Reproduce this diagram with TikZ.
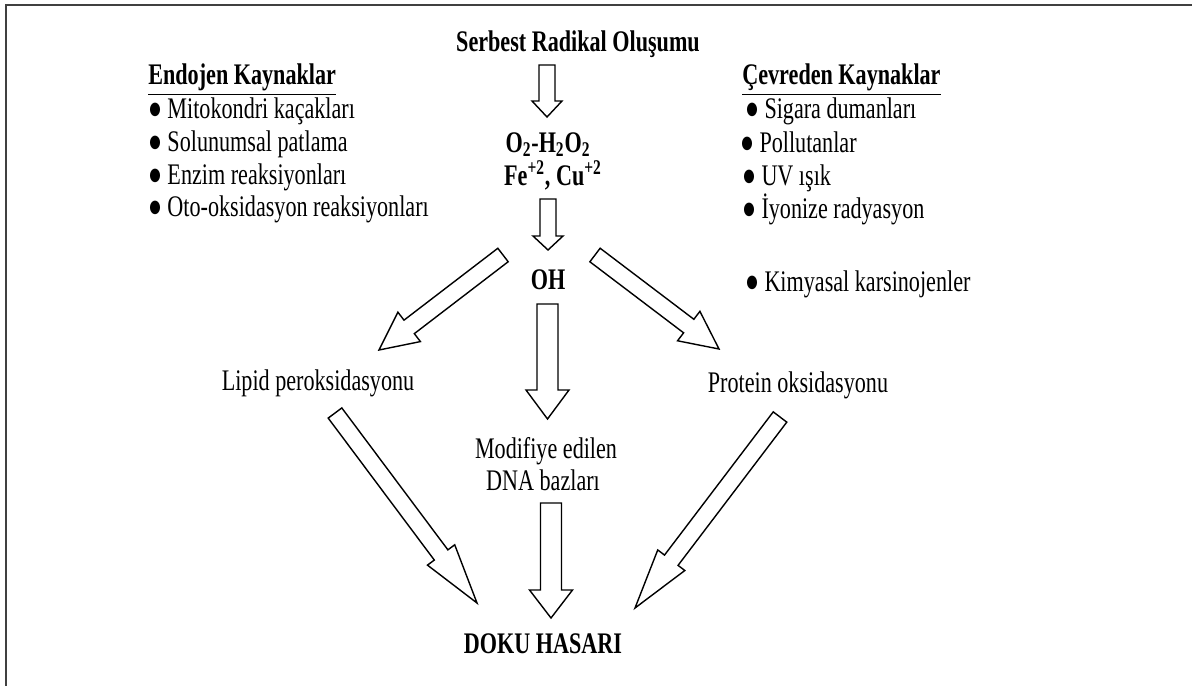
\documentclass[tikz,border=0pt]{standalone}
\usepackage{fontspec}
\setmainfont{Liberation Serif}
\newfontfamily\symfont{DejaVu Sans}
\usetikzlibrary{calc}

% hollow block arrow: start, tip, half shaft, half head, head length
\newcommand{\hollowarrow}[5]{%
  \coordinate (ha-b) at ($(#2)!#5!(#1)$);
  \draw[hollow] ($(#1)!#3!90:(#2)$) -- ($(ha-b)!#3!90:(#2)$) -- ($(ha-b)!#4!90:(#2)$)
    -- (#2) -- ($(ha-b)!#4!-90:(#2)$) -- ($(ha-b)!#3!-90:(#2)$) -- ($(#1)!#3!-90:(#2)$) -- cycle;}
\newcommand{\blt}{\raisebox{1.3pt}{\symfont\fontsize{7.5}{8}\selectfont ●}\hspace{0.3em}}

\begin{document}
\begin{tikzpicture}[
    x=0.02cm, y=-0.02cm,
    txt/.style={font=\fontsize{12.6}{15}\selectfont,inner sep=0pt,anchor=base,yscale=1.35},
    head/.style={txt,font=\fontsize{12.6}{15}\selectfont\bfseries},
    item/.style={txt,anchor=base west},
    hollow/.style={draw=black,line width=0.8pt,line join=miter,fill=white},
    frame/.style={draw=black!75,line width=1.5pt}
  ]
  \useasboundingbox (0,0) rectangle (1192,686);
  \draw[frame] (1192,5) -- (6,5) -- (6,686);

  % centre column
  \node[head] (radikal) at (578,51) {Serbest Radikal Oluşumu};
  \node[head] (oksijen) at (548,152) {O\textsubscript{2}-H\textsubscript{2}O\textsubscript{2}};
  \node[head] (metal) at (553,185) {Fe\textsuperscript{+2}, Cu\textsuperscript{+2}};
  \node[head] (oh) at (548,289) {OH};
  \node[txt] (lipid) at (318,390) {Lipid peroksidasyonu};
  \node[txt] (protein) at (798,392) {Protein oksidasyonu};
  \node[txt] (dna1) at (546,458) {Modifiye edilen};
  \node[txt] (dna2) at (543,490) {DNA bazları};
  \node[head] (hasar) at (543,653) {DOKU HASARI};

  % endojen sources
  \node[head,anchor=base west] (endojen) at (148,85) {\underline{Endojen Kaynaklar}};
  \node[item] (e1) at (149,118) {\blt Mitokondri kaçakları};
  \node[item] (e2) at (149,151) {\blt Solunumsal patlama};
  \node[item] (e3) at (149,184) {\blt Enzim reaksiyonları};
  \node[item] (e4) at (149,216) {\blt Oto-oksidasyon reaksiyonları};

  % cevresel sources
  \node[head,anchor=base west] (cevre) at (742,85) {\underline{Çevreden Kaynaklar}};
  \node[item] (c1) at (746,118) {\blt Sigara dumanları};
  \node[item] (c2) at (741,152) {\blt Pollutanlar};
  \node[item] (c3) at (743,185) {\blt UV ışık};
  \node[item] (c4) at (743,218) {\blt İyonize radyasyon};
  \node[item] (c5) at (746,291) {\blt Kimyasal karsinojenler};

  % arrow ends
  \coordinate (radikal-out) at (547,65);   \coordinate (oksijen-in) at (547,117);
  \coordinate (metal-out) at (548,199);    \coordinate (oh-in) at (548,250);
  \coordinate (oh-out) at (547.5,304);     \coordinate (dna-in) at (547.5,419);
  \coordinate (dna-out) at (551,503);      \coordinate (hasar-in) at (551,618);
  \coordinate (oh-left) at (503,255);      \coordinate (lipid-in) at (379,350);
  \coordinate (oh-right) at (595,255);     \coordinate (protein-in) at (719,349);
  \coordinate (lipid-out) at (335,413);    \coordinate (hasar-left) at (477,603);
  \coordinate (protein-out) at (780,417);  \coordinate (hasar-right) at (635,608);

  \hollowarrow{radikal-out}{oksijen-in}{0.16cm}{0.30cm}{0.32cm}
  \hollowarrow{metal-out}{oh-in}{0.16cm}{0.30cm}{0.28cm}
  \hollowarrow{oh-out}{dna-in}{0.21cm}{0.43cm}{0.58cm}
  \hollowarrow{dna-out}{hasar-in}{0.21cm}{0.43cm}{0.56cm}
  \hollowarrow{oh-left}{lipid-in}{0.17cm}{0.37cm}{0.76cm}
  \hollowarrow{oh-right}{protein-in}{0.17cm}{0.37cm}{0.76cm}
  \hollowarrow{lipid-out}{hasar-left}{0.17cm}{0.34cm}{1.2cm}
  \hollowarrow{protein-out}{hasar-right}{0.17cm}{0.34cm}{1.2cm}
\end{tikzpicture}
\end{document}
